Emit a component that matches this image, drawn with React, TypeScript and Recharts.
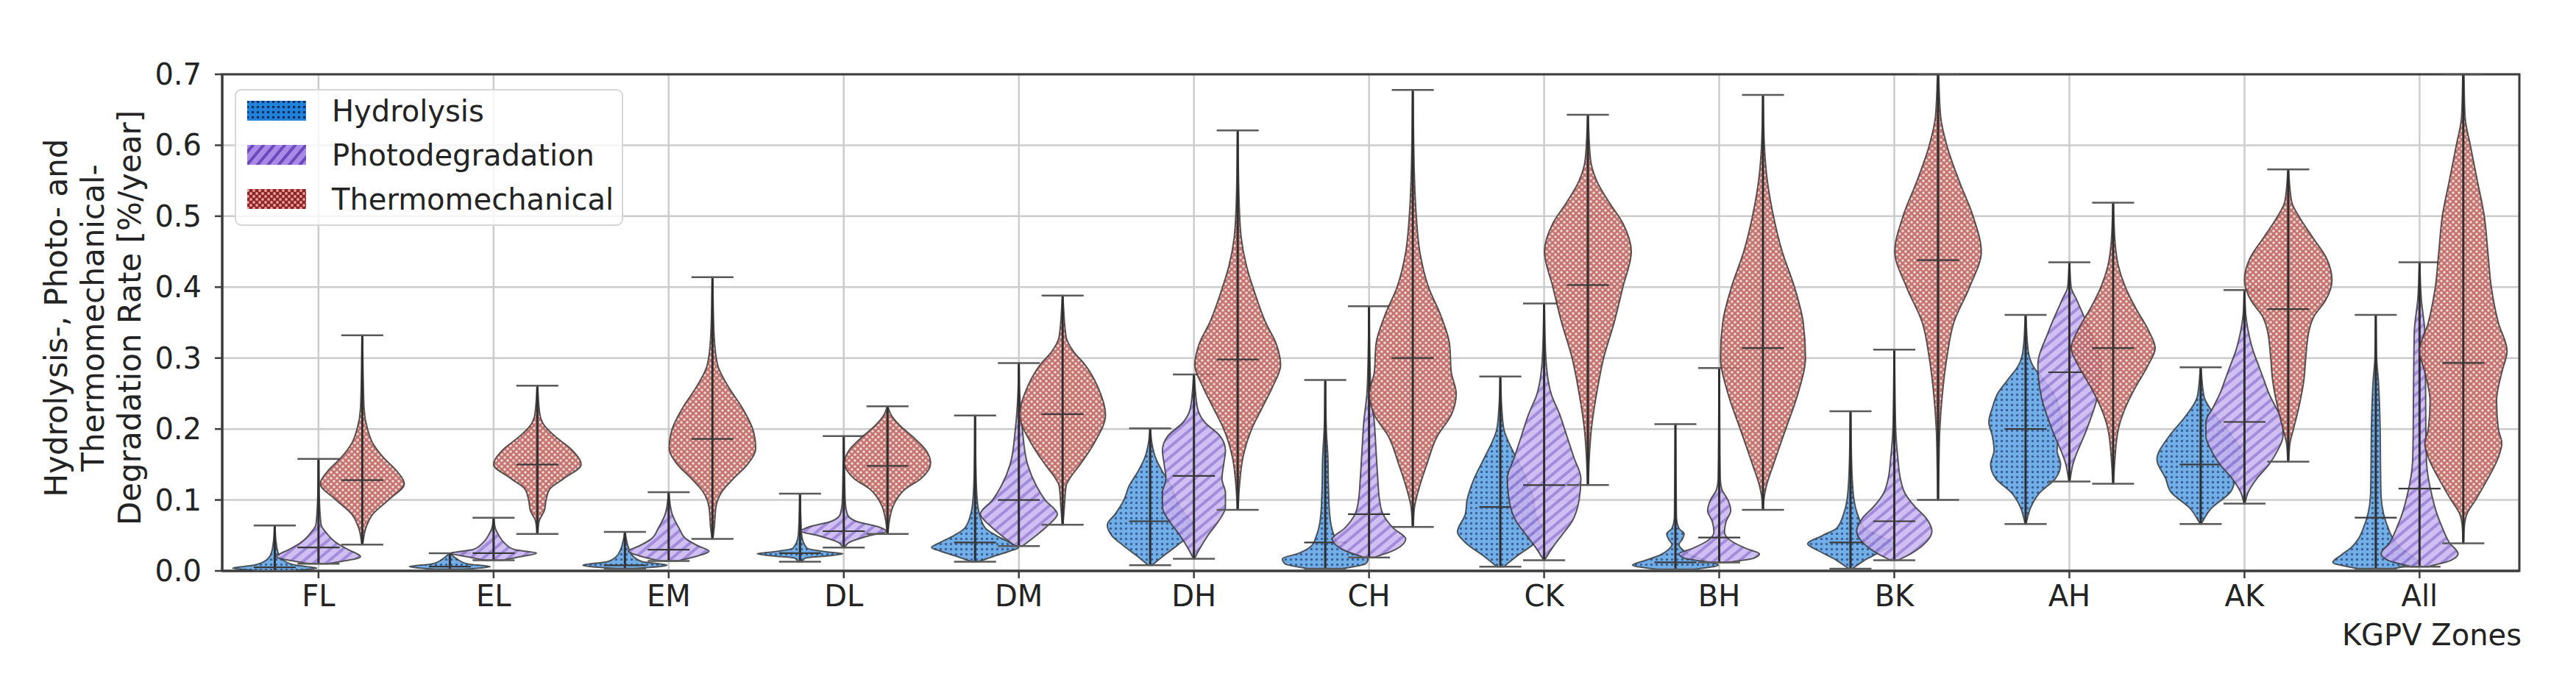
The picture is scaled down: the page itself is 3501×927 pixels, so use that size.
import React from 'react';
import { ComposedChart, Scatter, XAxis, YAxis, CartesianGrid, ReferenceArea, Legend } from 'recharts';

// ---------- data ----------
const categories = ['FL', 'EL', 'EM', 'DL', 'DM', 'DH', 'CH', 'CK', 'BH', 'BK', 'AH', 'AK', 'All'];
const yTicks = [0, 0.1, 0.2, 0.3, 0.4, 0.5, 0.6, 0.7];
const seriesNames = ['Hydrolysis', 'Photodegradation', 'Thermomechanical'];
const yLabelLines = ['Hydrolysis-, Photo- and', 'Thermomechanical-', 'Degradation Rate [%/year]'];
const xLabel = 'KGPV Zones';

const hydroMin = [0.0, 0.002, 0.003, 0.013, 0.013, 0.008, 0.003, 0.006, 0.002, 0.003, 0.066, 0.066, 0.003];
const hydroMax = [0.064, 0.025, 0.055, 0.109, 0.219, 0.201, 0.269, 0.274, 0.207, 0.225, 0.361, 0.287, 0.361];
const hydroMedian = [0.005, 0.006, 0.008, 0.025, 0.04, 0.07, 0.04, 0.09, 0.012, 0.04, 0.2, 0.15, 0.075];
// [value, half width (category units)]
const hydroShapes = [
  [[0, 0.08], [0.004, 0.24], [0.008, 0.12], [0.015, 0.05], [0.025, 0.02], [0.04, 0.008], [0.064, 0.001]],
  [[0.002, 0.08], [0.006, 0.23], [0.01, 0.1], [0.017, 0.04], [0.025, 0.002]],
  [[0.003, 0.05], [0.008, 0.24], [0.013, 0.1], [0.02, 0.05], [0.03, 0.025], [0.045, 0.008], [0.055, 0.001]],
  [[0.013, 0.01], [0.018, 0.03], [0.021, 0.15], [0.024, 0.245], [0.027, 0.15], [0.032, 0.04], [0.05, 0.01], [0.08, 0.004], [0.109, 0.001]],
  [[0.013, 0.02], [0.02, 0.1], [0.028, 0.2], [0.033, 0.248], [0.04, 0.2], [0.05, 0.12], [0.06, 0.06], [0.08, 0.025], [0.1, 0.012], [0.14, 0.005], [0.219, 0.001]],
  [[0.008, 0.01], [0.02, 0.07], [0.035, 0.15], [0.05, 0.22], [0.065, 0.245], [0.08, 0.2], [0.1, 0.15], [0.12, 0.12], [0.14, 0.07], [0.16, 0.03], [0.18, 0.01], [0.201, 0.001]],
  [[0.003, 0.1], [0.01, 0.23], [0.017, 0.245], [0.025, 0.15], [0.035, 0.08], [0.05, 0.05], [0.08, 0.025], [0.12, 0.018], [0.16, 0.015], [0.2, 0.006], [0.269, 0.001]],
  [[0.006, 0.02], [0.02, 0.09], [0.04, 0.2], [0.055, 0.245], [0.08, 0.2], [0.1, 0.19], [0.13, 0.15], [0.16, 0.09], [0.18, 0.05], [0.2, 0.02], [0.23, 0.008], [0.274, 0.001]],
  [[0.002, 0.1], [0.008, 0.245], [0.015, 0.17], [0.022, 0.09], [0.03, 0.04], [0.037, 0.02], [0.045, 0.04], [0.052, 0.05], [0.06, 0.02], [0.075, 0.006], [0.12, 0.004], [0.207, 0.001]],
  [[0.003, 0.01], [0.015, 0.08], [0.028, 0.18], [0.038, 0.245], [0.05, 0.16], [0.06, 0.08], [0.08, 0.04], [0.1, 0.02], [0.14, 0.008], [0.225, 0.001]],
  [[0.066, 0.002], [0.09, 0.03], [0.11, 0.08], [0.13, 0.17], [0.15, 0.2], [0.17, 0.18], [0.19, 0.19], [0.21, 0.21], [0.23, 0.19], [0.25, 0.16], [0.27, 0.1], [0.29, 0.04], [0.31, 0.015], [0.361, 0.001]],
  [[0.066, 0.002], [0.088, 0.06], [0.111, 0.17], [0.13, 0.2], [0.157, 0.25], [0.19, 0.18], [0.217, 0.09], [0.245, 0.02], [0.287, 0.001]],
  [[0.003, 0.1], [0.012, 0.245], [0.022, 0.2], [0.033, 0.14], [0.045, 0.1], [0.061, 0.07], [0.08, 0.045], [0.107, 0.03], [0.15, 0.027], [0.2, 0.025], [0.268, 0.015], [0.3, 0.005], [0.361, 0.001]],
];

const photoMin = [0.01, 0.015, 0.014, 0.033, 0.035, 0.017, 0.019, 0.015, 0.012, 0.015, 0.126, 0.095, 0.006];
const photoMax = [0.158, 0.075, 0.111, 0.19, 0.293, 0.277, 0.373, 0.377, 0.286, 0.312, 0.435, 0.396, 0.435];
const photoMedian = [0.033, 0.025, 0.03, 0.056, 0.1, 0.134, 0.08, 0.121, 0.047, 0.07, 0.28, 0.21, 0.116];
const photoShapes = [
  [[0.01, 0.05], [0.02, 0.24], [0.03, 0.17], [0.04, 0.1], [0.055, 0.04], [0.065, 0.015], [0.1, 0.005], [0.158, 0.001]],
  [[0.015, 0.05], [0.02, 0.15], [0.025, 0.245], [0.03, 0.12], [0.04, 0.06], [0.05, 0.03], [0.06, 0.01], [0.075, 0.001]],
  [[0.014, 0.05], [0.02, 0.15], [0.028, 0.23], [0.035, 0.17], [0.045, 0.1], [0.06, 0.06], [0.08, 0.02], [0.1, 0.005], [0.111, 0.001]],
  [[0.033, 0.005], [0.04, 0.03], [0.05, 0.15], [0.056, 0.245], [0.062, 0.2], [0.07, 0.07], [0.08, 0.02], [0.1, 0.008], [0.19, 0.001]],
  [[0.035, 0.02], [0.05, 0.1], [0.065, 0.17], [0.08, 0.22], [0.1, 0.15], [0.12, 0.1], [0.15, 0.05], [0.2, 0.02], [0.25, 0.005], [0.293, 0.001]],
  [[0.017, 0.002], [0.03, 0.03], [0.05, 0.08], [0.07, 0.14], [0.09, 0.18], [0.11, 0.18], [0.13, 0.16], [0.15, 0.17], [0.17, 0.18], [0.19, 0.15], [0.21, 0.06], [0.23, 0.02], [0.277, 0.001]],
  [[0.019, 0.03], [0.03, 0.15], [0.045, 0.21], [0.06, 0.14], [0.08, 0.08], [0.1, 0.06], [0.13, 0.05], [0.17, 0.04], [0.21, 0.03], [0.25, 0.012], [0.3, 0.005], [0.373, 0.001]],
  [[0.015, 0.002], [0.03, 0.04], [0.05, 0.1], [0.07, 0.16], [0.1, 0.2], [0.13, 0.21], [0.16, 0.17], [0.19, 0.13], [0.22, 0.09], [0.25, 0.04], [0.3, 0.01], [0.377, 0.001]],
  [[0.012, 0.05], [0.018, 0.2], [0.024, 0.23], [0.032, 0.15], [0.042, 0.07], [0.055, 0.03], [0.07, 0.04], [0.085, 0.066], [0.1, 0.05], [0.115, 0.015], [0.13, 0.006], [0.2, 0.003], [0.286, 0.001]],
  [[0.015, 0.02], [0.025, 0.1], [0.04, 0.18], [0.056, 0.215], [0.075, 0.18], [0.09, 0.12], [0.11, 0.06], [0.13, 0.035], [0.16, 0.02], [0.2, 0.008], [0.312, 0.001]],
  [[0.126, 0.002], [0.15, 0.02], [0.2, 0.1], [0.245, 0.16], [0.29, 0.18], [0.337, 0.12], [0.383, 0.04], [0.4, 0.01], [0.435, 0.001]],
  [[0.095, 0.002], [0.11, 0.02], [0.13, 0.07], [0.15, 0.14], [0.17, 0.19], [0.19, 0.22], [0.21, 0.22], [0.23, 0.18], [0.25, 0.14], [0.27, 0.11], [0.29, 0.08], [0.31, 0.05], [0.34, 0.02], [0.36, 0.008], [0.396, 0.001]],
  [[0.006, 0.05], [0.015, 0.18], [0.024, 0.22], [0.04, 0.17], [0.061, 0.13], [0.08, 0.1], [0.107, 0.07], [0.153, 0.04], [0.2, 0.036], [0.245, 0.035], [0.29, 0.033], [0.337, 0.03], [0.383, 0.01], [0.435, 0.001]],
];

const thermoMin = [0.037, 0.052, 0.045, 0.052, 0.065, 0.086, 0.062, 0.121, 0.086, 0.1, 0.123, 0.154, 0.039];
const thermoMax = [0.332, 0.261, 0.414, 0.232, 0.388, 0.621, 0.678, 0.643, 0.671, 0.7, 0.519, 0.566, 0.7];
const thermoMedian = [0.128, 0.15, 0.186, 0.148, 0.221, 0.298, 0.3, 0.403, 0.314, 0.438, 0.314, 0.369, 0.293];
const thermoShapes = [
  [[0.037, 0.002], [0.06, 0.02], [0.08, 0.06], [0.1, 0.15], [0.123, 0.24], [0.14, 0.2], [0.16, 0.12], [0.18, 0.06], [0.2, 0.03], [0.23, 0.01], [0.332, 0.001]],
  [[0.052, 0.002], [0.07, 0.01], [0.085, 0.04], [0.1, 0.05], [0.115, 0.07], [0.13, 0.15], [0.15, 0.25], [0.17, 0.2], [0.19, 0.1], [0.205, 0.04], [0.22, 0.015], [0.261, 0.001]],
  [[0.045, 0.002], [0.06, 0.01], [0.09, 0.02], [0.11, 0.05], [0.13, 0.12], [0.15, 0.2], [0.173, 0.247], [0.2, 0.23], [0.23, 0.17], [0.26, 0.09], [0.29, 0.03], [0.33, 0.01], [0.414, 0.001]],
  [[0.052, 0.002], [0.07, 0.01], [0.09, 0.03], [0.1, 0.05], [0.115, 0.1], [0.13, 0.19], [0.152, 0.246], [0.17, 0.22], [0.19, 0.14], [0.205, 0.07], [0.22, 0.02], [0.232, 0.001]],
  [[0.065, 0.002], [0.09, 0.01], [0.12, 0.02], [0.13, 0.04], [0.15, 0.1], [0.18, 0.18], [0.22, 0.245], [0.26, 0.2], [0.29, 0.13], [0.31, 0.06], [0.33, 0.02], [0.388, 0.001]],
  [[0.086, 0.002], [0.12, 0.01], [0.16, 0.03], [0.2, 0.08], [0.23, 0.14], [0.26, 0.2], [0.29, 0.245], [0.32, 0.22], [0.35, 0.16], [0.39, 0.1], [0.43, 0.05], [0.47, 0.02], [0.52, 0.008], [0.621, 0.001]],
  [[0.062, 0.002], [0.09, 0.01], [0.12, 0.04], [0.15, 0.08], [0.19, 0.14], [0.22, 0.22], [0.25, 0.248], [0.28, 0.22], [0.32, 0.21], [0.36, 0.16], [0.4, 0.09], [0.45, 0.04], [0.5, 0.02], [0.55, 0.01], [0.678, 0.001]],
  [[0.121, 0.002], [0.16, 0.008], [0.2, 0.02], [0.25, 0.05], [0.3, 0.09], [0.35, 0.15], [0.4, 0.2], [0.45, 0.248], [0.49, 0.2], [0.52, 0.12], [0.55, 0.05], [0.58, 0.015], [0.643, 0.001]],
  [[0.086, 0.002], [0.1, 0.005], [0.12, 0.02], [0.15, 0.06], [0.2, 0.13], [0.25, 0.2], [0.3, 0.243], [0.35, 0.23], [0.4, 0.18], [0.45, 0.11], [0.5, 0.06], [0.55, 0.025], [0.6, 0.008], [0.671, 0.001]],
  [[0.1, 0.002], [0.15, 0.005], [0.2, 0.01], [0.25, 0.025], [0.3, 0.05], [0.35, 0.09], [0.4, 0.18], [0.45, 0.247], [0.5, 0.2], [0.55, 0.12], [0.6, 0.05], [0.64, 0.015], [0.7, 0.003]],
  [[0.123, 0.002], [0.15, 0.008], [0.2, 0.03], [0.23, 0.07], [0.26, 0.13], [0.29, 0.2], [0.314, 0.24], [0.34, 0.2], [0.37, 0.13], [0.4, 0.07], [0.43, 0.03], [0.46, 0.012], [0.519, 0.001]],
  [[0.154, 0.002], [0.18, 0.01], [0.2, 0.03], [0.23, 0.06], [0.27, 0.09], [0.3, 0.1], [0.34, 0.12], [0.36, 0.15], [0.38, 0.21], [0.41, 0.25], [0.44, 0.22], [0.47, 0.14], [0.5, 0.06], [0.52, 0.02], [0.566, 0.001]],
  [[0.039, 0.002], [0.06, 0.005], [0.08, 0.02], [0.1, 0.07], [0.13, 0.14], [0.16, 0.2], [0.18, 0.22], [0.2, 0.2], [0.24, 0.19], [0.28, 0.22], [0.31, 0.25], [0.35, 0.2], [0.4, 0.16], [0.45, 0.14], [0.5, 0.12], [0.55, 0.08], [0.6, 0.04], [0.64, 0.01], [0.7, 0.003]],
];

// ---------- layout / style ----------
const CHART_W = 3485;
const CHART_H = 911;
const MARGIN = { top: 93, right: 69, bottom: 83, left: 194 };
const X_DOMAIN = [-0.55, 12.57];
const CAP = 0.12;
const FONT = 'DejaVu Sans, sans-serif';
const TEXT = '#232323';

const series = [
  { name: seriesNames[0], offset: -0.25, min: hydroMin, max: hydroMax, median: hydroMedian, shapes: hydroShapes, fill: 'patHydro', legendFill: 'legHydro' },
  { name: seriesNames[1], offset: 0, min: photoMin, max: photoMax, median: photoMedian, shapes: photoShapes, fill: 'patPhoto', legendFill: 'legPhoto' },
  { name: seriesNames[2], offset: 0.25, min: thermoMin, max: thermoMax, median: thermoMedian, shapes: thermoShapes, fill: 'patThermo', legendFill: 'legThermo' },
];

type P = { x: number; y: number };

function bodyData(pos: number, shape: number[][]) {
  const right = shape.map(([v, hw]) => ({ x: pos + hw, y: v }));
  const left = shape.slice().reverse().map(([v, hw]) => ({ x: pos - hw, y: v }));
  return [...right, ...left];
}

function statsData(pos: number, mn: number, mx: number, md: number) {
  return [
    { x: pos, y: mn }, { x: pos, y: mx },
    { x: pos - CAP, y: mn }, { x: pos + CAP, y: mn },
    { x: pos - CAP, y: mx }, { x: pos + CAP, y: mx },
    { x: pos - CAP, y: md }, { x: pos + CAP, y: md },
  ];
}

// monotone cubic path with y as independent variable
function monoSegments(p: P[]): string {
  const n = p.length;
  if (n < 2) return '';
  const h: number[] = [];
  const s: number[] = [];
  for (let i = 0; i < n - 1; i++) {
    h[i] = p[i + 1].y - p[i].y;
    s[i] = h[i] === 0 ? 0 : (p[i + 1].x - p[i].x) / h[i];
  }
  const m: number[] = new Array(n).fill(0);
  m[0] = s[0];
  m[n - 1] = s[n - 2];
  for (let i = 1; i < n - 1; i++) {
    const s0 = s[i - 1];
    const s1 = s[i];
    if (s0 * s1 <= 0) { m[i] = 0; continue; }
    const h0 = h[i - 1];
    const h1 = h[i];
    const pp = (s0 * h1 + s1 * h0) / (h0 + h1);
    m[i] = (Math.sign(s0) + Math.sign(s1)) * Math.min(Math.abs(s0), Math.abs(s1), 0.5 * Math.abs(pp));
  }
  let d = '';
  for (let i = 0; i < n - 1; i++) {
    const dy = h[i] / 3;
    d += ` C${p[i].x + m[i] * dy},${p[i].y + dy} ${p[i + 1].x - m[i + 1] * dy},${p[i + 1].y - dy} ${p[i + 1].x},${p[i + 1].y}`;
  }
  return d;
}

const makeBodyLine = (fillId: string) => (props: any) => {
  const pts: P[] = (props.points || []).filter((q: any) => q && Number.isFinite(q.x) && Number.isFinite(q.y));
  if (pts.length < 4) return <g />;
  const n = Math.floor(pts.length / 2);
  const right = pts.slice(0, n);
  const left = pts.slice(n);
  const d = `M${right[0].x},${right[0].y}${monoSegments(right)} L${left[0].x},${left[0].y}${monoSegments(left)} Z`;
  return <path d={d} fill={`url(#${fillId})`} fillOpacity={0.88} stroke="#3c3c3c" strokeOpacity={0.85} strokeWidth={2} />;
};

const statsLine = (props: any) => {
  const p: P[] = props.points || [];
  if (p.length < 8) return <g />;
  return (
    <g>
      <line x1={p[0].x} y1={p[0].y} x2={p[1].x} y2={p[1].y} stroke="#2e2e2e" strokeWidth={3} />
      <line x1={p[2].x} y1={p[2].y} x2={p[3].x} y2={p[3].y} stroke="#5a5a5a" strokeWidth={2.5} />
      <line x1={p[4].x} y1={p[4].y} x2={p[5].x} y2={p[5].y} stroke="#5a5a5a" strokeWidth={2.5} />
      <line x1={p[6].x} y1={p[6].y} x2={p[7].x} y2={p[7].y} stroke="#3a3a3a" strokeWidth={2.2} />
    </g>
  );
};

const noShape = () => <g />;

const XTick = (props: any) => {
  const { x, y, payload } = props;
  return (
    <text x={x} y={y + 16} textAnchor="middle" dominantBaseline="central" fontSize={40} fontFamily={FONT} fill={TEXT}>
      {categories[payload.value]}
    </text>
  );
};

const YTick = (props: any) => {
  const { x, y, payload } = props;
  return (
    <text x={x} y={y} textAnchor="end" dominantBaseline="central" fontSize={40} fontFamily={FONT} fill={TEXT}>
      {Number(payload.value).toFixed(1)}
    </text>
  );
};

const YLabel = () => (
  <g>
    {yLabelLines.map((t, i) => (
      <text key={t} transform={`translate(${68 + 50 * i}, 424) rotate(-90)`} textAnchor="middle" dominantBaseline="central"
        fontSize={42} fontFamily={FONT} fill={TEXT}>{t}</text>
    ))}
  </g>
);

const XLabel = () => (
  <text x={CHART_W - MARGIN.right + 3} y={855} textAnchor="end" dominantBaseline="central" fontSize={40} fontFamily={FONT} fill={TEXT}>
    {xLabel}
  </text>
);

const LegendBox = () => (
  <svg width={528} height={186} style={{ display: 'block' }}>
    <rect x={1} y={1} width={526} height={184} rx={8} fill="#ffffff" fillOpacity={0.8} stroke="#d6d6d6" strokeWidth={2} />
    {series.map((s, i) => (
      <g key={s.name}>
        <rect x={17} y={16 + 60 * i} width={80} height={27} fill={`url(#${s.legendFill})`} />
        <text x={132} y={30 + 60 * i} dominantBaseline="central" fontSize={40} fontFamily={FONT} fill={TEXT}>{s.name}</text>
      </g>
    ))}
  </svg>
);

const Patterns = () => (
  <svg width={0} height={0} style={{ position: 'absolute' }}>
    <defs>
      <pattern id="patHydro" width={7} height={7} patternUnits="userSpaceOnUse">
        <rect width={7} height={7} fill="#5fa3e4" />
        <circle cx={3.5} cy={3.5} r={1.7} fill="#1c4a88" />
      </pattern>
      <pattern id="patPhoto" width={11} height={11} patternUnits="userSpaceOnUse" patternTransform="rotate(-40)">
        <rect width={11} height={11} fill="#c9b6f0" />
        <rect width={11} height={4} fill="#977cd8" />
      </pattern>
      <pattern id="patThermo" width={8} height={8} patternUnits="userSpaceOnUse">
        <rect width={8} height={8} fill="#b9625d" />
        <circle cx={2} cy={2} r={1.8} fill="#f3d0cc" />
        <circle cx={6} cy={6} r={1.8} fill="#f3d0cc" />
      </pattern>
      <pattern id="legHydro" width={7} height={7} patternUnits="userSpaceOnUse">
        <rect width={7} height={7} fill="#2182dc" />
        <circle cx={3.5} cy={3.5} r={1.8} fill="#0d2a55" />
      </pattern>
      <pattern id="legPhoto" width={11} height={11} patternUnits="userSpaceOnUse" patternTransform="rotate(-50)">
        <rect width={11} height={11} fill="#a78be6" />
        <rect width={11} height={4} fill="#6c49bd" />
      </pattern>
      <pattern id="legThermo" width={8} height={8} patternUnits="userSpaceOnUse">
        <rect width={8} height={8} fill="#8e2424" />
        <circle cx={2} cy={2} r={1.9} fill="#e9a3a0" />
        <circle cx={6} cy={6} r={1.9} fill="#e9a3a0" />
      </pattern>
    </defs>
  </svg>
);

export default function App() {
  return (
    <div style={{ position: 'relative', width: CHART_W, height: CHART_H, fontFamily: FONT }}>
      <Patterns />
      <ComposedChart width={CHART_W} height={CHART_H} margin={MARGIN}>
        <CartesianGrid stroke="#cccccc" strokeWidth={2.5} />
        <XAxis
          type="number"
          dataKey="x"
          domain={X_DOMAIN}
          ticks={categories.map((_, i) => i)}
          allowDataOverflow
          height={60}
          tickSize={10}
          tickMargin={8}
          tickLine={{ stroke: '#3d3d3d', strokeWidth: 2.5 }}
          axisLine={{ stroke: '#3d3d3d', strokeWidth: 3 }}
          tick={<XTick />}
          interval={0}
          label={<XLabel />}
        />
        <YAxis
          type="number"
          dataKey="y"
          domain={[0, 0.7]}
          ticks={yTicks}
          allowDataOverflow
          width={100}
          tickSize={10}
          tickMargin={18}
          tickLine={{ stroke: '#3d3d3d', strokeWidth: 2.5 }}
          axisLine={{ stroke: '#3d3d3d', strokeWidth: 3 }}
          tick={<YTick />}
          interval={0}
          label={<YLabel />}
        />
        {series.map((s, si) => (
          <React.Fragment key={s.name}>
            {categories.map((c, ci) => (
              <Scatter
                key={`body-${si}-${c}`}
                name={`${s.name}-${c}`}
                data={bodyData(ci + s.offset, s.shapes[ci])}
                line={makeBodyLine(s.fill)}
                lineType="joint"
                shape={noShape}
                legendType="none"
                isAnimationActive={false}
              />
            ))}
            {categories.map((c, ci) => (
              <Scatter
                key={`stats-${si}-${c}`}
                name={`${s.name}-${c}-stats`}
                data={statsData(ci + s.offset, s.min[ci], s.max[ci], s.median[ci])}
                line={statsLine}
                lineType="joint"
                shape={noShape}
                legendType="none"
                isAnimationActive={false}
              />
            ))}
          </React.Fragment>
        ))}
        <ReferenceArea x1={X_DOMAIN[0]} x2={X_DOMAIN[1]} y1={0} y2={0.7} fill="none" fillOpacity={0} stroke="#3d3d3d" strokeWidth={3} ifOverflow="visible" />
        <Legend
          layout="vertical"
          align="center"
          verticalAlign="middle"
          content={<LegendBox />}
          wrapperStyle={{ left: 311, top: 113, width: 528, height: 186 }}
        />
      </ComposedChart>
    </div>
  );
}
